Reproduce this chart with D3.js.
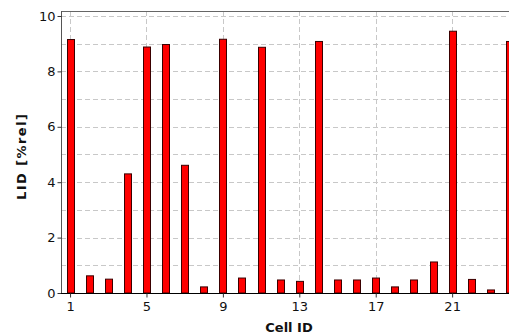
<!DOCTYPE html>
<html>
<head>
<meta charset="utf-8">
<script src="https://cdn.jsdelivr.net/npm/d3@7"></script>
<style>
  html, body { margin: 0; padding: 0; background: #fff; overflow: hidden; }
  svg { display: block; }
  text { font-family: "DejaVu Sans", Verdana, sans-serif; }
</style>
</head>
<body>
<svg id="chart" width="509" height="334"></svg>
<script>
// Cell IDs and their LID values (%rel)
const cellIds = d3.range(1, 25);
const lidValues = [9.15, 0.62, 0.50, 4.30, 8.88, 8.97, 4.61, 0.22, 9.16, 0.54, 8.87, 0.47,
                   0.42, 9.08, 0.47, 0.47, 0.54, 0.22, 0.47, 1.12, 9.45, 0.49, 0.11, 9.08];
const xTicks = [1, 5, 9, 13, 17, 21];
const yTicks = [0, 2, 4, 6, 8, 10];
const yGrid = d3.range(1, 11);

const svg = d3.select("#chart");
const plot = { left: 61, right: 519, top: 11, bottom: 293 };

const x = d3.scaleLinear().domain([0.5, 24.5]).range([plot.left - 0.5, plot.right]);
const y = d3.scaleLinear().domain([0, 10.18]).range([plot.bottom, plot.top]);

// dashed grid
const grid = svg.append("g").attr("stroke", "#c8c8c8").attr("stroke-dasharray", "5,3").attr("stroke-width", 1);
grid.selectAll("line.h").data(yGrid).join("line")
  .attr("x1", plot.left).attr("x2", plot.right)
  .attr("y1", d => Math.round(y(d)) + 0.5).attr("y2", d => Math.round(y(d)) + 0.5);
grid.selectAll("line.v").data(xTicks).join("line")
  .attr("y1", plot.top).attr("y2", plot.bottom)
  .attr("x1", d => Math.round(x(d)) + 0.5).attr("x2", d => Math.round(x(d)) + 0.5);

// top frame line
svg.append("line").attr("x1", plot.left).attr("x2", plot.right)
  .attr("y1", plot.top + 0.5).attr("y2", plot.top + 0.5)
  .attr("stroke", "#666").attr("stroke-width", 1);

// bars
const barW = 7;
svg.append("g").selectAll("rect").data(cellIds).join("rect")
  .attr("x", (d) => Math.round(x(d) - barW / 2) + 0.5)
  .attr("width", barW)
  .attr("y", (d, i) => y(lidValues[i]))
  .attr("height", (d, i) => plot.bottom - y(lidValues[i]))
  .attr("fill", "#ff0000")
  .attr("stroke", "#3a0000")
  .attr("stroke-width", 1);

// y axis
const yAxis = svg.append("g").attr("transform", `translate(${plot.left + 0.5},0)`)
  .call(d3.axisLeft(y).tickValues(yTicks).tickSize(4).tickPadding(2).tickFormat(d3.format("d")));
yAxis.select(".domain").attr("stroke", "#555").attr("d", `M0,${plot.top}V${plot.bottom}`);
yAxis.selectAll(".tick line").attr("stroke", "#333");
yAxis.selectAll("text").attr("font-size", 13).attr("fill", "#111")
  .attr("font-family", "DejaVu Sans, Verdana, sans-serif");

// x axis
const xAxis = svg.append("g").attr("transform", `translate(0,${plot.bottom + 0.5})`)
  .call(d3.axisBottom(x).tickValues(xTicks).tickSize(4).tickPadding(4).tickFormat(d3.format("d")));
xAxis.select(".domain").attr("stroke", "#000").attr("d", `M${plot.left},0H${plot.right}`);
xAxis.selectAll(".tick line").attr("stroke", "#333");
xAxis.selectAll("text").attr("font-size", 13).attr("fill", "#111")
  .attr("font-family", "DejaVu Sans, Verdana, sans-serif");

// axis titles
svg.append("text").attr("x", 289).attr("y", 332).attr("text-anchor", "middle")
  .attr("font-size", 13).attr("font-weight", "bold").attr("fill", "#111").text("Cell ID");
svg.append("text").attr("transform", "translate(26,157) rotate(-90)").attr("text-anchor", "middle")
  .attr("font-size", 13).attr("font-weight", "bold").attr("fill", "#111")
  .attr("textLength", 86).attr("lengthAdjust", "spacing").text("LID [%rel]");
</script>
</body>
</html>
